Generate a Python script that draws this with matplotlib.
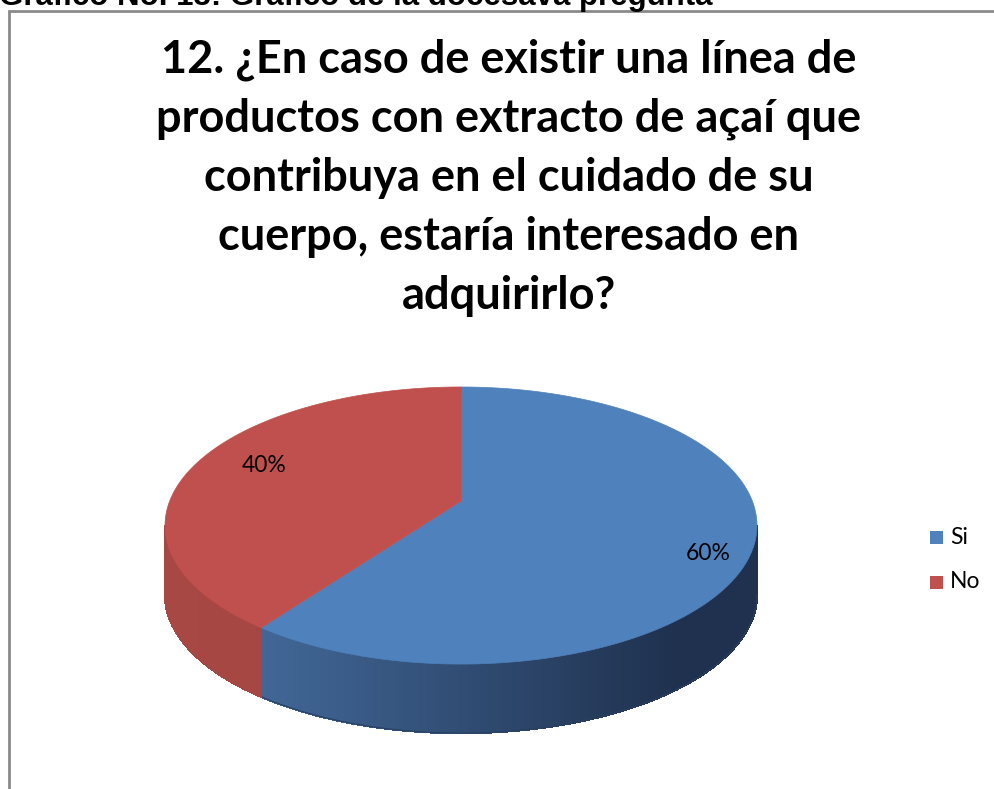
import numpy as np
import matplotlib
matplotlib.use("Agg")
import matplotlib.pyplot as plt
from matplotlib.patches import Polygon, Rectangle

labels = ["Si", "No"]
values = [60, 40]
pct_text = ["60%", "40%"]

title = ("12. ¿En caso de existir una línea de\n"
         "productos con extracto de açaí que\n"
         "contribuya en el cuidado de su\n"
         "cuerpo, estaría interesado en\n"
         "adquirirlo?")
caption = "Gráfico No. 13: Gráfico de la docesava pregunta"

top_colors = ["#4F81BD", "#C0504D"]

W, H = 995, 789
fig = plt.figure(figsize=(W / 100, H / 100), dpi=100)
ax = fig.add_axes([0, 0, 1, 1])
ax.set_xlim(0, W)
ax.set_ylim(H, 0)
ax.axis("off")

# pie geometry (pixels): perspective-projected disc
cx, vy = 461.0, 501.0
A, B, k = 291.3, 134.2, 0.177
depth = 69.0


def proj(theta, r=1.0):
    x = r * np.cos(theta)
    y = r * np.sin(theta)
    w = 1 + k * y
    return cx + A * x / w, vy - B * y / w


# slices: start at 12 o'clock, go clockwise
fracs = np.array(values, dtype=float) / sum(values)
ends = np.pi / 2 - 2 * np.pi * np.cumsum(fracs)
starts = np.concatenate([[np.pi / 2], ends[:-1]])

th_l = np.pi + np.arcsin(k)
th_r = 2 * np.pi - np.arcsin(k)


def shade(i, xs):
    t = np.clip((xs - (cx - A)) / (2 * A), 0, 1)
    if i == 0:
        c0 = np.array([66, 104, 152]) / 255
        c1 = np.array([31, 49, 78]) / 255
        tt = np.clip((t - 0.15) / 0.72, 0, 1)
        return c0 * (1 - tt) + c1 * tt
    c0 = np.array([168, 72, 69]) / 255
    c1 = np.array([152, 62, 60]) / 255
    return c0 * (1 - t) + c1 * t


# sides
for i in range(len(values)):
    lo, hi = min(starts[i], ends[i]), max(starts[i], ends[i])
    for off in (0, 2 * np.pi, -2 * np.pi):
        a = max(lo + off, th_l)
        b = min(hi + off, th_r)
        if b <= a:
            continue
        th = np.linspace(a, b, 160)
        for j in range(len(th) - 1):
            x0, y0 = proj(th[j])
            x1, y1 = proj(th[j + 1])
            c = shade(i, (x0 + x1) / 2)
            poly = [(x0, y0), (x1, y1), (x1, y1 + depth), (x0, y0 + depth)]
            ax.add_patch(Polygon(poly, closed=True, facecolor=c, edgecolor=c,
                                 lw=1.0, antialiased=False, zorder=2))
        # smooth outline of the side bottom
        xs, ys = zip(*[proj(t) for t in th])
        ax.plot(xs, np.array(ys) + depth, color=shade(i, np.mean(xs)), lw=0.8, zorder=2)

# tops
for i in range(len(values)):
    th = np.linspace(starts[i], ends[i], 200)
    pts = [(cx, vy)] + [proj(t) for t in th]
    ax.add_patch(Polygon(pts, closed=True, facecolor=top_colors[i],
                         edgecolor=top_colors[i], lw=0.5, zorder=3))

# labels
label_r = [0.85, 0.74]
label_dy = [16, -6]
for i in range(len(values)):
    mid = (starts[i] + ends[i]) / 2
    lx, ly = proj(mid, label_r[i])
    ax.text(lx, ly + label_dy[i], pct_text[i], ha="center", va="center",
            fontsize=16.5, family="Lato", color="black", zorder=5)

# title
ax.text(509, 38, title, ha="center", va="top", fontsize=32.5, fontweight="bold",
        family="Lato", color="black", linespacing=1.5, zorder=5)

# legend
for i, lab in enumerate(labels):
    yy = 537 + i * 45
    ax.add_patch(Rectangle((930, yy - 6.5), 13, 13, facecolor=top_colors[i],
                           edgecolor="none", zorder=5))
    ax.text(950, yy, lab, ha="left", va="center", fontsize=16.5,
            family="Lato", color="black", zorder=5)

# frame and cut caption
ax.plot([9, 9, W + 5], [H + 5, 11, 11], color="#8A8A8A", lw=2, zorder=1,
        solid_joinstyle="miter")
ax.text(-1, 5, caption, ha="left", va="baseline", fontsize=22.5,
        fontweight="bold", family="Liberation Sans", color="black", zorder=5)

fig.savefig("out.png", dpi=100)
